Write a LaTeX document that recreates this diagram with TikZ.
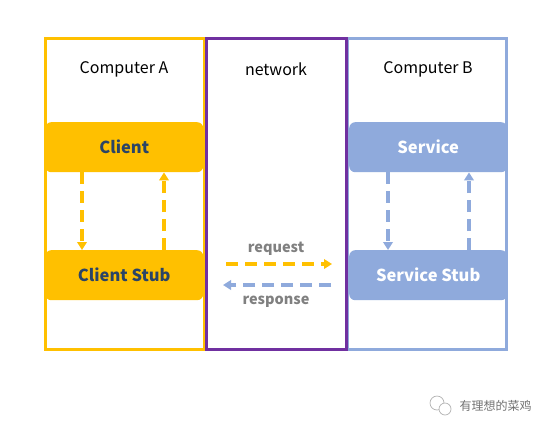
\documentclass[tikz,border=0pt]{standalone}
\usepackage{fontspec}
\setmainfont{Noto Sans CJK SC}
\usetikzlibrary{arrows.meta}
\definecolor{cyel}{HTML}{FFC000}
\definecolor{cpur}{HTML}{7030A0}
\definecolor{cblu}{HTML}{8FAADC}
\definecolor{ctxt}{HTML}{2B4466}
\definecolor{cgry}{HTML}{808080}
\begin{document}
\begin{tikzpicture}[x=1pt,y=-1pt,
  panel/.style={draw=#1,line width=3pt},
  comp/.style={fill=#1,rounded corners=6pt,draw=none,minimum width=158pt,minimum height=50pt,anchor=north west,inner sep=0pt,font=\fontsize{16.5}{19}\selectfont\bfseries},
  title/.style={font=\fontsize{16}{18}\selectfont,text=black},
  lbl/.style={font=\fontsize{14.5}{16}\selectfont\bfseries,text=cgry},
  darr/.style={draw=#1,line width=3.3pt,dash pattern=on 12pt off 7pt,-{Triangle[length=8pt,width=9.5pt]}}
]
\useasboundingbox (0,0) rectangle (553,431);
\fill[white] (0,0) rectangle (553,431);
% panels
\draw[panel=cyel] (45.5,38.5) rectangle (204,349.5);
\draw[panel=cblu] (347.5,38.5) rectangle (506.5,349.5);
\draw[panel=cpur] (206,38.5) rectangle (346,349.5);
% titles
\node[title] (tA) at (124,69) {Computer A};
\node[title] (tN) at (276,69) {network};
\node[title] (tB) at (428,69) {Computer B};
% components
\node[comp=cyel,text=ctxt] (client) at (45,122) {Client};
\node[comp=cyel,text=ctxt] (cstub) at (45,250) {Client Stub};
\node[comp=cblu,text=white] (service) at (349,122) {Service};
\node[comp=cblu,text=white] (sstub) at (349,250) {Service Stub};
% vertical arrows
\draw[darr=cyel] (client.south west) ++(37,0) coordinate (c1) -- (c1 |- cstub.north);
\draw[darr=cyel] (cstub.north west) ++(119,0) coordinate (c2) -- (c2 |- client.south);
\draw[darr=cblu] (service.south west) ++(39,0) coordinate (s1) -- (s1 |- sstub.north);
\draw[darr=cblu] (sstub.north west) ++(120,0) coordinate (s2) -- (s2 |- service.south);
% network arrows
\coordinate (rqA) at (226,264);
\coordinate (rqB) at (332,264);
\coordinate (rsA) at (331,285);
\coordinate (rsB) at (223,285);
\draw[darr=cyel] (rqA) -- (rqB);
\draw[darr=cblu] (rsA) -- (rsB);
\node[lbl] (req) at (276,249) {request};
\node[lbl] (resp) at (276,302) {response};
% watermark
\begin{scope}[draw=black!30,line width=0.7pt]
\draw (437,403) circle (7pt);
\draw[fill=white] (445,409) circle (6pt);
\end{scope}
\node[font=\fontsize{12}{14}\selectfont,text=black!55,anchor=west] (wm) at (456,406) {有理想的菜鸡};
\end{tikzpicture}
\end{document}
